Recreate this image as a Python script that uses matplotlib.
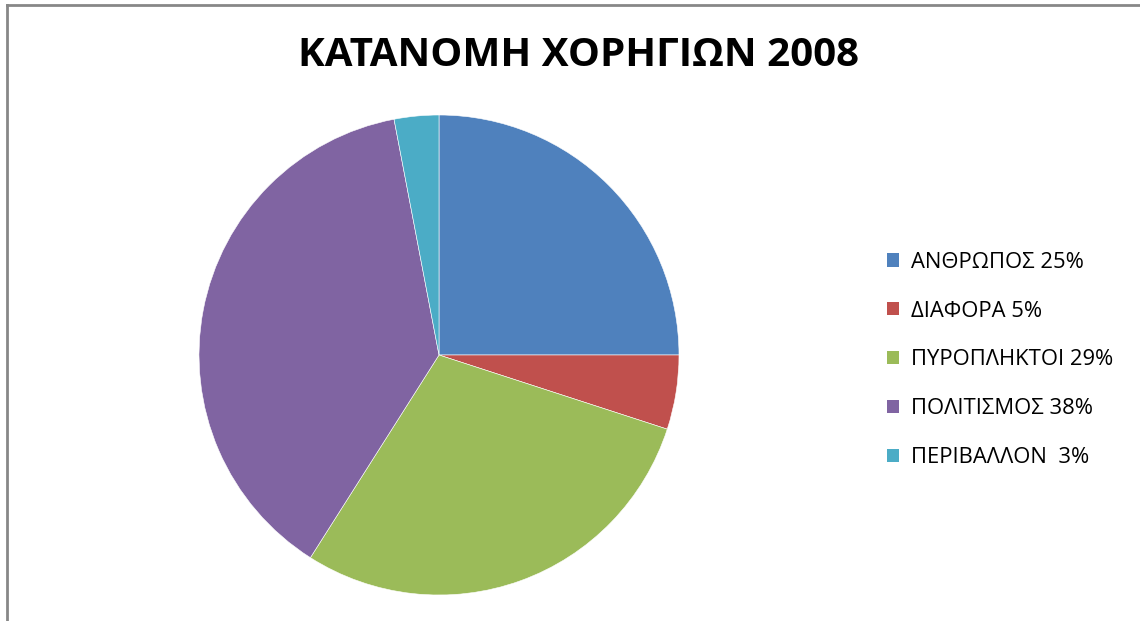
import matplotlib.pyplot as plt
from matplotlib.lines import Line2D
from matplotlib.patches import Patch

plt.rcParams['font.family'] = ['Open Sans', 'DejaVu Sans']

labels = ['ΑΝΘΡΩΠΟΣ 25%', 'ΔΙΑΦΟΡΑ 5%', 'ΠΥΡΟΠΛΗΚΤΟΙ 29%', 'ΠΟΛΙΤΙΣΜΟΣ 38%', 'ΠΕΡΙΒΑΛΛΟΝ  3%']
values = [25, 5, 29, 38, 3]
colors = ['#4F81BD', '#C0504D', '#9BBB59', '#8064A2', '#4BACC6']

W, H = 1140, 621
fig = plt.figure(figsize=(W / 100, H / 100), dpi=100)

# pie axes: center (439, 355), radius 240 px
cx, cy, r = 439, 355, 240
ax = fig.add_axes([(cx - r) / W, (H - cy - r) / H, 2 * r / W, 2 * r / H])
wedges, _ = ax.pie(values, colors=colors, startangle=90, counterclock=False,
                   wedgeprops=dict(edgecolor='white', linewidth=0.4))
ax.set_xlim(-1, 1)
ax.set_ylim(-1, 1)
ax.set_aspect('equal')
ax.axis('off')

fig.text(578 / W, 1 - 55 / H, 'ΚΑΤΑΝΟΜΗ ΧΟΡΗΓΙΩΝ 2008', ha='center', va='center',
         fontsize=29, fontweight='bold')

handles = [Patch(facecolor=c, edgecolor='none') for c in colors]
fig.legend(handles, labels, loc='upper left', bbox_to_anchor=(867 / W, 1 - 232 / H),
           frameon=False, fontsize=15.8, handlelength=0.55, handleheight=0.55,
           handletextpad=0.55, labelspacing=1.27)

# outer chart border (left and top visible)
fig.add_artist(Line2D([7 / W, 7 / W], [0, 1 - 5 / H], color='#878787', linewidth=2))
fig.add_artist(Line2D([7 / W, 1], [1 - 5 / H, 1 - 5 / H], color='#878787', linewidth=2))

fig.savefig('out.png', dpi=100)
